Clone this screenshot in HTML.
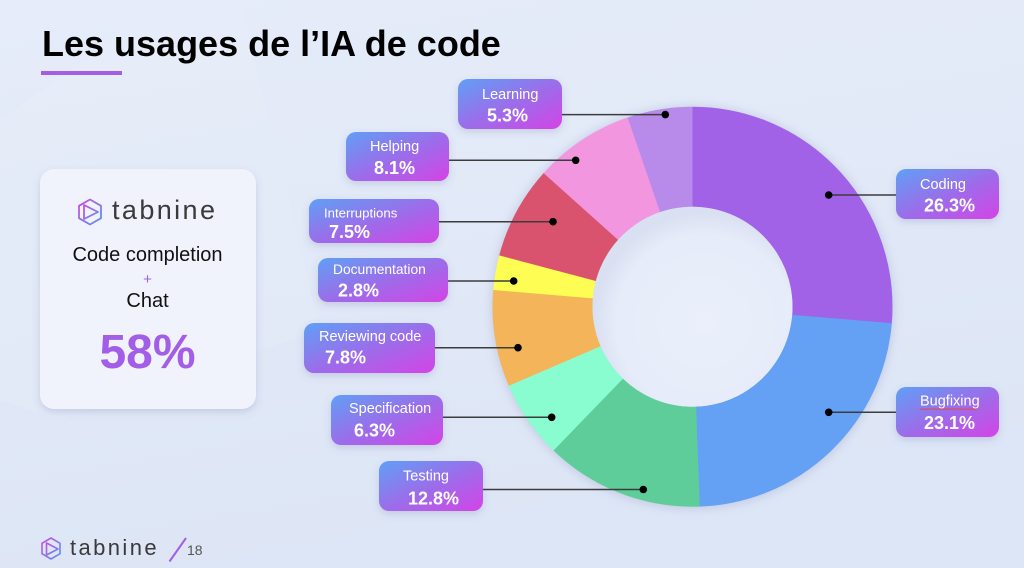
<!DOCTYPE html>
<html><head><meta charset="utf-8"><style>
html,body{margin:0;padding:0;background:#e3eaf8;}
svg{display:block;}
text{font-family:"Liberation Sans",sans-serif;}
</style></head><body>
<svg width="1024" height="568" viewBox="0 0 1024 568" xmlns="http://www.w3.org/2000/svg">
<defs>
<linearGradient id="bg" x1="0" y1="0" x2="0.3" y2="1">
<stop offset="0" stop-color="#e6ecf9"/><stop offset="1" stop-color="#dde6f6"/>
</linearGradient>
<linearGradient id="lbl" x1="0" y1="0" x2="1" y2="1">
<stop offset="0" stop-color="#5fa0f6"/><stop offset="0.5" stop-color="#9a6eea"/><stop offset="1" stop-color="#d444e6"/>
</linearGradient>
<linearGradient id="logo" x1="0" y1="0" x2="1" y2="1">
<stop offset="0" stop-color="#c84fe0"/><stop offset="1" stop-color="#5b92f2"/>
</linearGradient>
<radialGradient id="hole" cx="0.56" cy="0.58" r="0.55">
<stop offset="0" stop-color="#eaeffb"/><stop offset="0.8" stop-color="#e7ecfa"/><stop offset="1" stop-color="#d9e0f1"/>
</radialGradient>
<filter id="sh" x="-20%" y="-20%" width="140%" height="150%">
<feDropShadow dx="0" dy="3" stdDeviation="4" flood-color="#5a64a0" flood-opacity="0.22"/>
</filter>
<filter id="blur" x="-10%" y="-10%" width="120%" height="120%">
<feGaussianBlur stdDeviation="5"/>
</filter>
</defs>
<rect width="1024" height="568" fill="url(#bg)"/>
<polygon points="170,0 240,0 320,330 60,420 0,400 0,120" fill="#e9eefa" opacity="0.2"/>

<!-- title -->
<text x="42" y="56" font-size="36" font-weight="bold" fill="#000">Les usages de l’IA de code</text>
<rect x="41" y="71" width="81" height="4" fill="#a35ee8"/>

<!-- card -->
<rect x="40" y="169" width="216" height="240" rx="14" fill="#f0f2fc" filter="url(#sh)"/>
<g fill="none" stroke="url(#logo)" stroke-width="1.8" stroke-linejoin="round">
<polygon points="90,199.5 101,205.8 101,218.2 90,224.5 79,218.2 79,205.8"/>
<polygon points="84,205 84,219 98,212"/>
</g>
<text x="112" y="219" font-size="27" letter-spacing="2.4" fill="#3a3a3a">tabnine</text>
<text x="147.5" y="261" font-size="20" text-anchor="middle" fill="#111">Code completion</text>
<text x="147.5" y="284" font-size="15" text-anchor="middle" fill="#a35ee8">+</text>
<text x="147.5" y="307" font-size="20" text-anchor="middle" fill="#111">Chat</text>
<text x="147.5" y="368" font-size="48" font-weight="bold" text-anchor="middle" fill="#a35ee8">58%</text>

<!-- footer -->
<g fill="none" stroke="url(#logo)" stroke-width="1.6" stroke-linejoin="round">
<polygon points="51,538 60,543.3 60,553.7 51,559 42,553.7 42,543.3"/>
<polygon points="46.5,543 46.5,555 58,549"/>
</g>
<text x="70" y="555" font-size="22" letter-spacing="2.4" fill="#3a3a3a">tabnine</text>
<line x1="186" y1="538" x2="169.5" y2="561.5" stroke="#a35ee8" stroke-width="2"/>
<text x="187" y="555" font-size="14" fill="#555">18</text>

<!-- donut -->
<circle cx="692.5" cy="307.5" r="201" fill="#8a93bb" opacity="0.35" filter="url(#blur)"/>
<g transform="rotate(-90 692.5 306.7)" fill="none" stroke-width="100">
<circle cx="692.5" cy="306.7" r="150" stroke="#a162e8" stroke-dasharray="248.4 942.48" stroke-dashoffset="0"/>
<circle cx="692.5" cy="306.7" r="150" stroke="#64a0f4" stroke-dasharray="218.2 942.48" stroke-dashoffset="-247.87"/>
<circle cx="692.5" cy="306.7" r="150" stroke="#5ecd9a" stroke-dasharray="121.1 942.48" stroke-dashoffset="-465.58"/>
<circle cx="692.5" cy="306.7" r="150" stroke="#8afdd0" stroke-dasharray="59.9 942.48" stroke-dashoffset="-586.22"/>
<circle cx="692.5" cy="306.7" r="150" stroke="#f3b45a" stroke-dasharray="74.0 942.48" stroke-dashoffset="-645.60"/>
<circle cx="692.5" cy="306.7" r="150" stroke="#fdfd54" stroke-dasharray="26.9 942.48" stroke-dashoffset="-719.11"/>
<circle cx="692.5" cy="306.7" r="150" stroke="#d9536e" stroke-dasharray="71.2 942.48" stroke-dashoffset="-745.50"/>
<circle cx="692.5" cy="306.7" r="150" stroke="#f396e0" stroke-dasharray="76.8 942.48" stroke-dashoffset="-816.19"/>
<circle cx="692.5" cy="306.7" r="150" stroke="#b88aea" stroke-dasharray="49.95 942.48" stroke-dashoffset="-892.53"/>
</g>
<circle cx="692.5" cy="306.7" r="100" fill="url(#hole)"/>

<!-- connectors -->
<g stroke="#3c3c3c" stroke-width="1.5">
<line x1="560" y1="114.6" x2="665.3" y2="114.6"/>
<line x1="447" y1="160.3" x2="575.7" y2="160.3"/>
<line x1="437" y1="221.7" x2="553" y2="221.7"/>
<line x1="446" y1="281" x2="513.7" y2="281"/>
<line x1="433" y1="347.7" x2="518" y2="347.7"/>
<line x1="441" y1="417.3" x2="551.7" y2="417.3"/>
<line x1="481" y1="489.5" x2="643.3" y2="489.5"/>
<line x1="828.7" y1="195" x2="898" y2="195"/>
<line x1="828.7" y1="412.3" x2="898" y2="412.3"/>
</g>
<g fill="#000">
<circle cx="665.3" cy="114.6" r="3.8"/>
<circle cx="575.7" cy="160.3" r="3.8"/>
<circle cx="553" cy="221.7" r="3.8"/>
<circle cx="513.7" cy="281" r="3.8"/>
<circle cx="518" cy="347.7" r="3.8"/>
<circle cx="551.7" cy="417.3" r="3.8"/>
<circle cx="643.3" cy="489.5" r="3.8"/>
<circle cx="828.7" cy="195" r="3.8"/>
<circle cx="828.7" cy="412.3" r="3.8"/>
</g>

<!-- label boxes -->
<g fill="url(#lbl)" filter="url(#sh)">
<rect x="458" y="79" width="104" height="50" rx="10"/>
<rect x="346" y="132" width="103" height="49" rx="10"/>
<rect x="309" y="199" width="130" height="44" rx="10"/>
<rect x="318" y="258" width="130" height="44" rx="10"/>
<rect x="304" y="323" width="131" height="50" rx="10"/>
<rect x="331" y="395" width="112" height="50" rx="10"/>
<rect x="379" y="461" width="104" height="50" rx="10"/>
<rect x="896" y="169" width="103" height="50" rx="10"/>
<rect x="896" y="387" width="103" height="50" rx="10"/>
</g>
<g fill="#fff">
<text x="482" y="99" font-size="14.5">Learning</text>
<text x="487" y="121.5" font-size="18" font-weight="bold">5.3%</text>
<text x="370" y="151" font-size="14.5">Helping</text>
<text x="374" y="174" font-size="18" font-weight="bold">8.1%</text>
<text x="324" y="217.5" font-size="13.2">Interruptions</text>
<text x="329" y="238" font-size="18" font-weight="bold">7.5%</text>
<text x="333" y="274" font-size="13.8">Documentation</text>
<text x="338" y="296.5" font-size="18" font-weight="bold">2.8%</text>
<text x="319" y="341" font-size="14.5">Reviewing code</text>
<text x="325" y="363.5" font-size="18" font-weight="bold">7.8%</text>
<text x="349" y="413" font-size="14.5">Specification</text>
<text x="354" y="436.5" font-size="18" font-weight="bold">6.3%</text>
<text x="403" y="480.5" font-size="14.5">Testing</text>
<text x="408" y="504.5" font-size="18" font-weight="bold">12.8%</text>
<text x="920" y="189" font-size="14.5">Coding</text>
<text x="924" y="211.5" font-size="18" font-weight="bold">26.3%</text>
<text x="920" y="405.5" font-size="14.5">Bugfixing</text>
<text x="924" y="429" font-size="18" font-weight="bold">23.1%</text>
</g>
<path d="M920,408.5 l1.5,1.2 l1.5,-1.2 l1.5,1.2 l1.5,-1.2 l1.5,1.2 l1.5,-1.2 l1.5,1.2 l1.5,-1.2 l1.5,1.2 l1.5,-1.2 l1.5,1.2 l1.5,-1.2 l1.5,1.2 l1.5,-1.2 l1.5,1.2 l1.5,-1.2 l1.5,1.2 l1.5,-1.2 l1.5,1.2 l1.5,-1.2 l1.5,1.2 l1.5,-1.2 l1.5,1.2 l1.5,-1.2 l1.5,1.2 l1.5,-1.2 l1.5,1.2 l1.5,-1.2 l1.5,1.2 l1.5,-1.2 l1.5,1.2 l1.5,-1.2 l1.5,1.2 l1.5,-1.2 l1.5,1.2 l1.5,-1.2 l1.5,1.2 l1.5,-1.2" fill="none" stroke="#e04848" stroke-width="0.8"/>
</svg>
</body></html>
